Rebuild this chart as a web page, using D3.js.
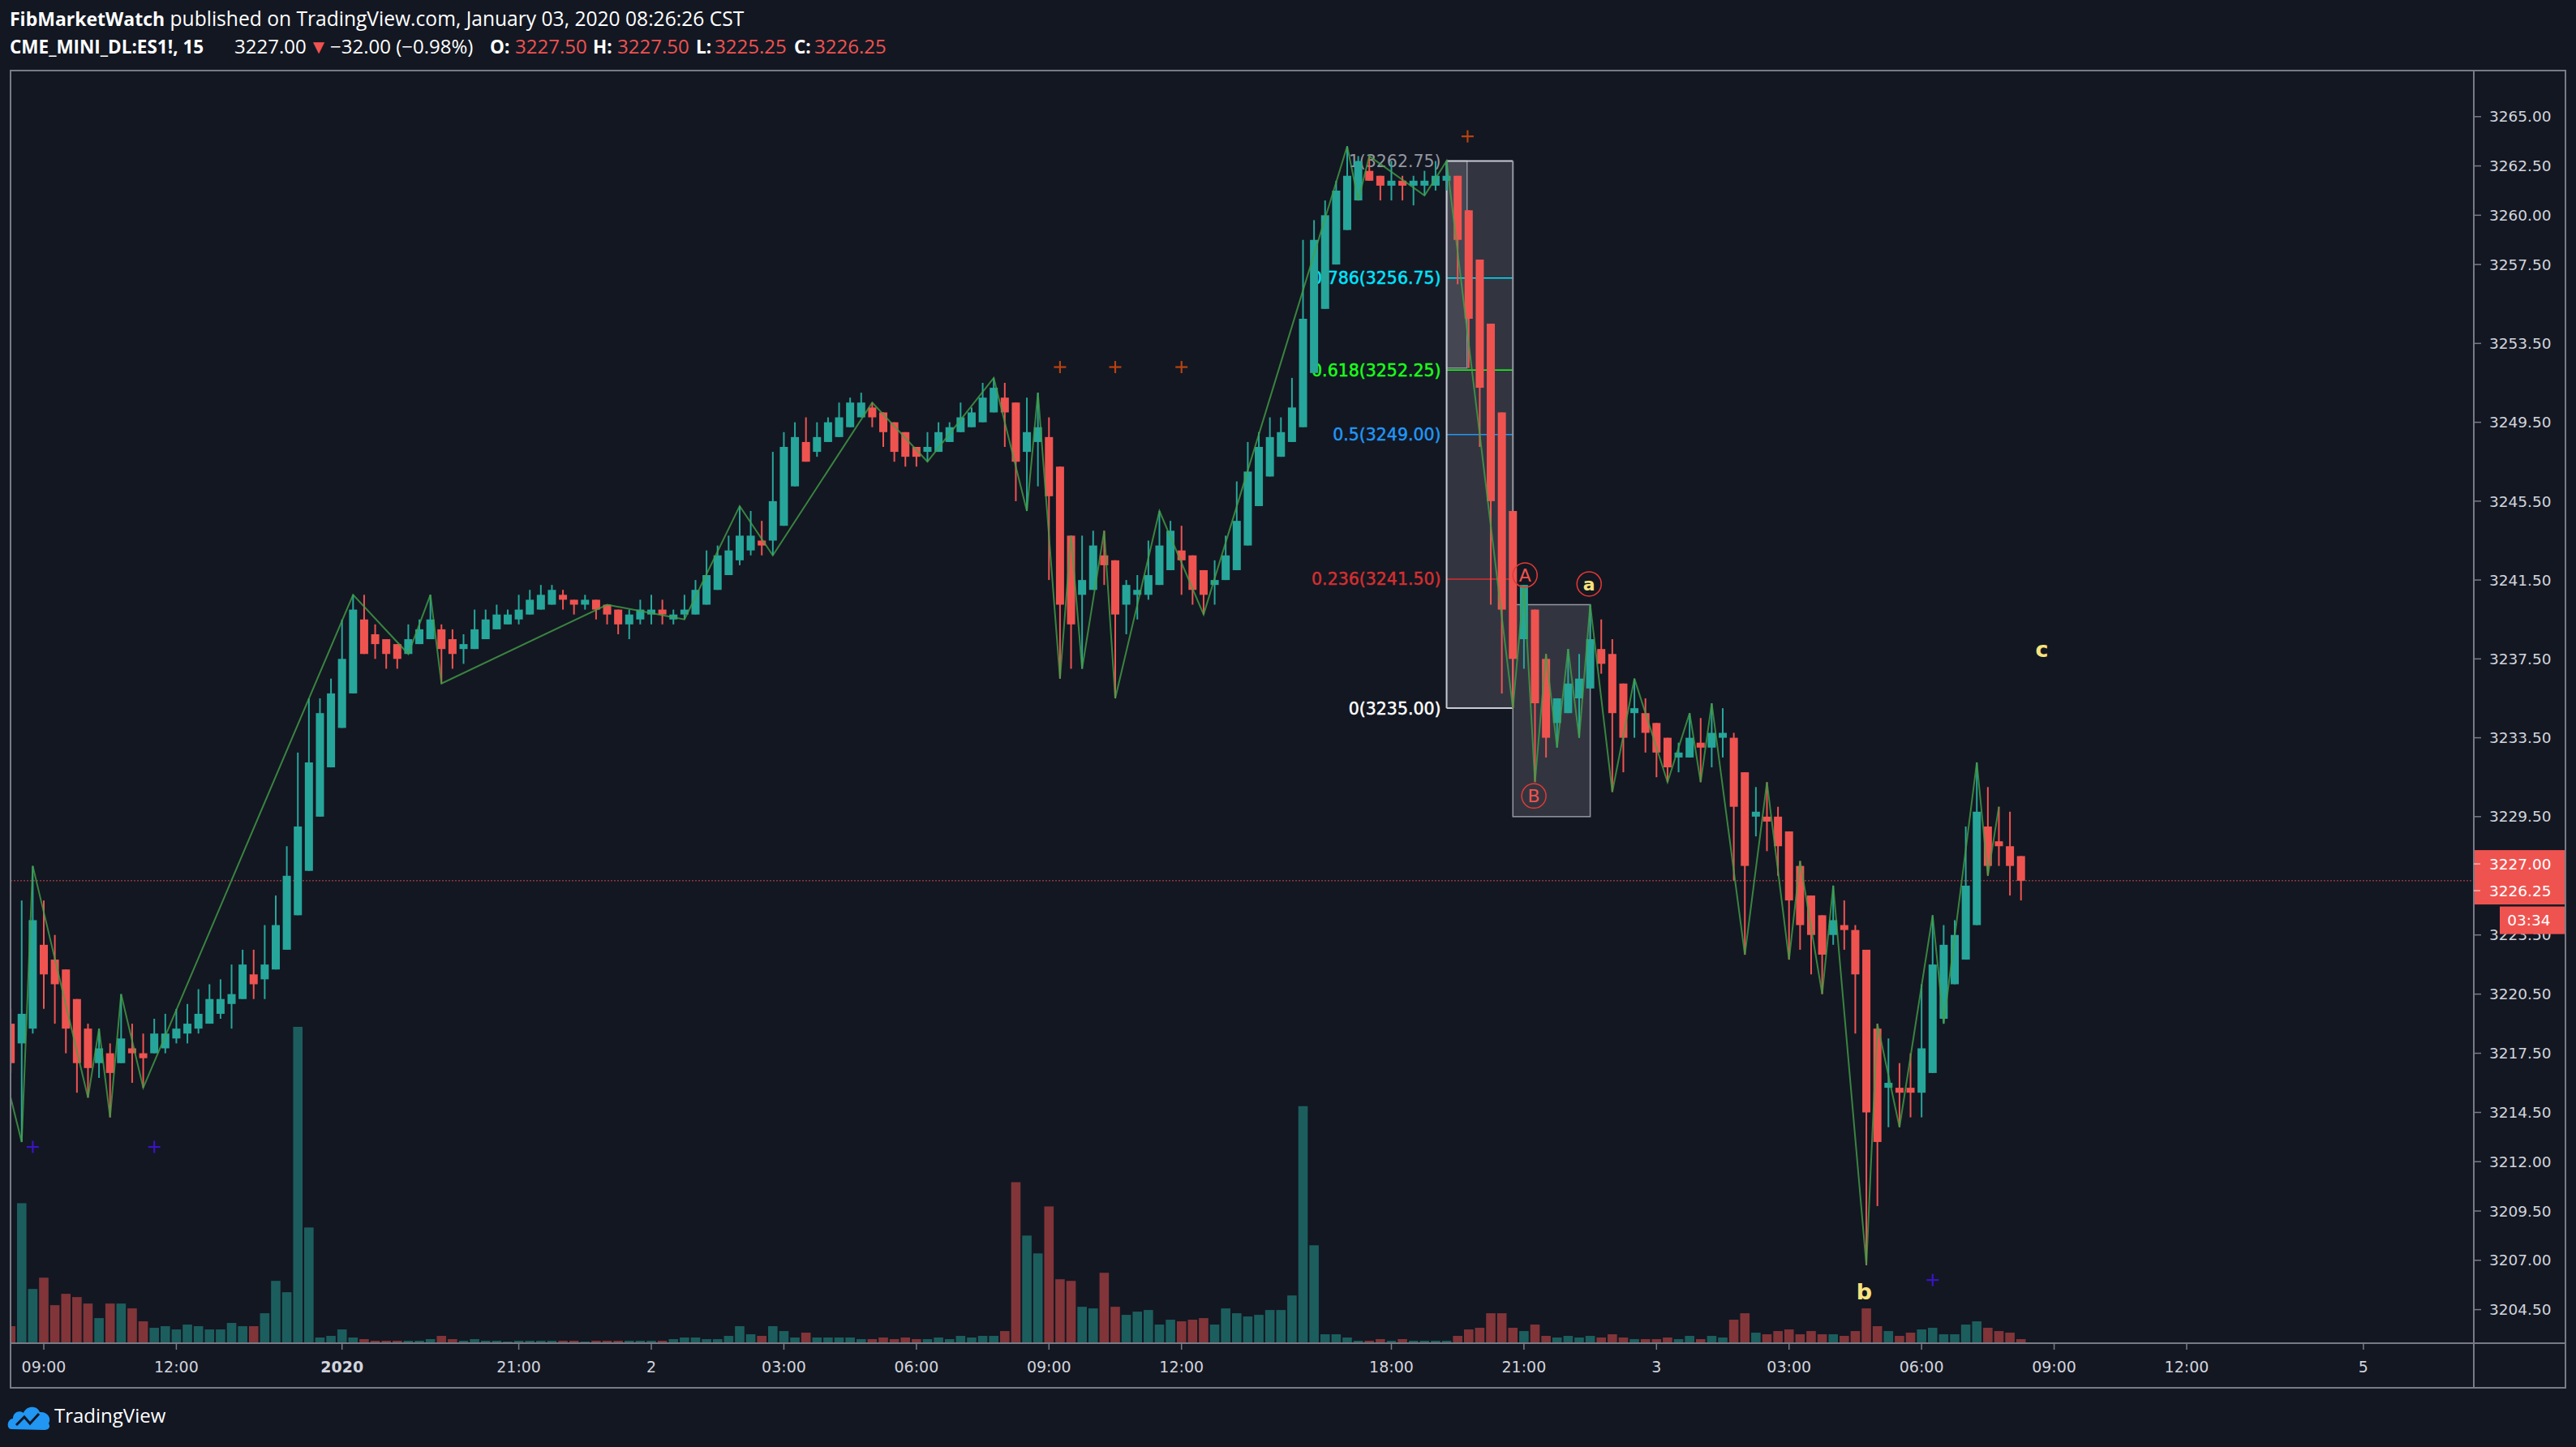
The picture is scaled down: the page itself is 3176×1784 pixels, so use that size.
<!DOCTYPE html>
<html>
<head>
<meta charset="utf-8">
<script src="https://d3js.org/d3.v7.min.js"></script>
<style>
body { margin: 0; background: #131722; }
svg { display: block; }
</style>
</head>
<body>
<div id="chart"></div>
<script>

// ES1! 15 min bars. bar index 0 = Dec 31 09:00, first bar on screen is -3
var firstBar = -3;

var opens = [
  3219.0, 3218.0, 3218.75, 3223.0, 3222.25, 3221.75, 3220.25, 3218.75, 3217.0, 3217.5,
  3217.0, 3217.75, 3217.5, 3217.5, 3217.75, 3218.25, 3218.5, 3218.75, 3219.0, 3219.5,
  3220.0, 3220.25, 3221.5, 3221.25, 3221.75, 3222.75, 3224.5, 3226.75, 3229.5, 3232.0,
  3234.0, 3235.75, 3239.5, 3238.75, 3238.5, 3238.25, 3237.75, 3238.25, 3238.5, 3239.0,
  3238.5, 3238.0, 3238.0, 3238.5, 3239.0, 3239.25, 3239.5, 3239.75, 3240.0, 3240.25,
  3240.75, 3240.5, 3240.25, 3240.5, 3240.25, 3240.0, 3239.25, 3239.5, 3239.75, 3240.0,
  3239.5, 3239.75, 3239.75, 3240.25, 3241.0, 3241.75, 3242.5, 3243.0, 3243.5, 3243.5,
  3244.25, 3246.25, 3248.5, 3248.0, 3248.5, 3248.75, 3249.25, 3249.75, 3250.25, 3250.0,
  3249.5, 3249.0, 3248.25, 3248.0, 3248.0, 3248.5, 3249.0, 3249.25, 3249.5, 3250.0,
  3250.75, 3250.5, 3248.0, 3248.5, 3248.75, 3247.25, 3243.75, 3240.75, 3241.0, 3242.75,
  3242.5, 3240.25, 3240.75, 3240.75, 3241.25, 3242.0, 3243.0, 3242.75, 3242.0, 3241.25,
  3241.5, 3242.0, 3243.25, 3245.25, 3246.75, 3247.75, 3248.5, 3249.25, 3252.0, 3255.25,
  3257.5, 3259.25, 3260.75, 3262.25, 3262.0, 3261.5, 3261.75, 3261.5, 3261.5, 3261.5,
  3261.75, 3262.0, 3260.25, 3257.75, 3254.5, 3250.0, 3245.0, 3238.5, 3240.0, 3237.5,
  3234.25, 3234.75, 3235.5, 3236.0, 3238.0, 3237.75, 3236.25, 3234.75, 3234.75, 3234.25,
  3233.5, 3232.5, 3232.5, 3233.25, 3233.0, 3233.5, 3233.5, 3231.75, 3229.5, 3229.5,
  3229.5, 3228.75, 3227.0, 3225.5, 3224.5, 3223.5, 3224.0, 3223.75, 3222.75, 3218.75,
  3215.75, 3215.75, 3215.75, 3215.5, 3216.5, 3219.25, 3221.0, 3222.25, 3224.0, 3229.0,
  3228.25, 3228.0, 3227.5
];
var highs = [
  3219.75, 3225.25, 3227.0, 3225.25, 3223.5, 3221.75, 3220.25, 3219.0, 3218.75, 3218.0,
  3220.5, 3219.0, 3218.5, 3219.25, 3219.5, 3219.75, 3220.0, 3220.75, 3221.0, 3221.25,
  3222.0, 3222.75, 3222.75, 3224.0, 3225.5, 3228.0, 3232.75, 3235.5, 3235.5, 3236.5,
  3239.5, 3240.75, 3240.75, 3239.25, 3238.5, 3238.25, 3239.25, 3239.5, 3240.75, 3239.25,
  3239.0, 3238.75, 3240.0, 3240.0, 3240.25, 3240.0, 3240.75, 3241.0, 3241.25, 3241.25,
  3241.0, 3240.5, 3240.75, 3240.5, 3240.25, 3240.0, 3240.0, 3240.5, 3240.75, 3240.5,
  3240.0, 3240.75, 3241.5, 3243.0, 3243.25, 3243.75, 3245.25, 3245.0, 3244.5, 3248.0,
  3249.0, 3249.5, 3249.75, 3249.5, 3249.75, 3250.5, 3250.75, 3251.0, 3250.5, 3250.0,
  3249.5, 3249.0, 3248.25, 3249.0, 3249.5, 3249.5, 3250.5, 3250.25, 3251.5, 3251.75,
  3251.5, 3250.5, 3250.75, 3251.0, 3249.75, 3247.25, 3243.75, 3243.75, 3244.0, 3244.0,
  3242.5, 3241.5, 3241.75, 3243.5, 3245.0, 3244.5, 3244.25, 3242.75, 3242.0, 3242.5,
  3243.75, 3246.5, 3248.5, 3249.0, 3249.75, 3249.75, 3251.75, 3258.75, 3259.75, 3260.75,
  3261.75, 3263.5, 3263.0, 3263.0, 3262.0, 3262.75, 3262.0, 3262.0, 3262.25, 3262.75,
  3262.75, 3262.0, 3260.25, 3257.75, 3254.5, 3250.0, 3245.0, 3241.25, 3240.0, 3237.75,
  3235.5, 3238.0, 3237.75, 3240.25, 3239.5, 3238.5, 3236.25, 3236.5, 3235.5, 3234.25,
  3233.5, 3233.25, 3234.75, 3234.5, 3235.25, 3235.0, 3233.75, 3231.75, 3231.0, 3231.25,
  3230.0, 3228.75, 3227.25, 3225.5, 3224.5, 3226.0, 3225.25, 3224.0, 3222.75, 3219.0,
  3218.25, 3217.0, 3217.5, 3221.0, 3224.5, 3224.0, 3224.25, 3229.0, 3232.25, 3231.0,
  3230.0, 3229.75, 3227.5
];
var lows = [
  3216.5, 3213.0, 3218.5, 3219.75, 3219.0, 3217.5, 3215.5, 3215.25, 3216.25, 3214.25,
  3217.0, 3216.0, 3215.75, 3217.5, 3217.5, 3218.0, 3218.0, 3218.5, 3219.0, 3219.25,
  3218.75, 3220.25, 3220.25, 3220.25, 3221.75, 3222.75, 3224.5, 3226.75, 3229.5, 3232.0,
  3234.0, 3235.75, 3237.75, 3237.5, 3237.0, 3237.0, 3237.75, 3238.25, 3238.5, 3236.25,
  3237.0, 3237.25, 3238.0, 3238.5, 3239.0, 3239.25, 3239.25, 3239.75, 3240.0, 3240.25,
  3240.0, 3239.75, 3240.0, 3239.5, 3239.25, 3238.75, 3238.5, 3239.25, 3239.25, 3239.25,
  3239.25, 3239.5, 3239.75, 3240.25, 3241.0, 3241.75, 3242.25, 3242.75, 3242.75, 3242.75,
  3244.25, 3246.25, 3247.5, 3247.75, 3248.5, 3248.75, 3249.25, 3249.75, 3249.25, 3248.25,
  3247.5, 3247.25, 3247.25, 3247.5, 3248.0, 3248.5, 3249.0, 3249.25, 3249.5, 3250.0,
  3248.25, 3245.5, 3245.0, 3246.25, 3241.5, 3236.5, 3237.0, 3237.0, 3241.0, 3241.25,
  3235.5, 3238.75, 3239.5, 3240.5, 3241.25, 3242.0, 3240.75, 3240.25, 3239.75, 3240.25,
  3241.5, 3242.0, 3243.25, 3245.25, 3246.75, 3247.75, 3248.5, 3249.25, 3252.0, 3255.25,
  3257.5, 3259.25, 3260.75, 3261.75, 3260.75, 3260.75, 3260.75, 3260.5, 3261.0, 3261.25,
  3261.25, 3256.5, 3252.25, 3248.25, 3240.25, 3235.75, 3235.0, 3237.0, 3231.25, 3232.5,
  3233.0, 3234.75, 3233.5, 3236.0, 3236.75, 3230.75, 3231.75, 3233.5, 3232.75, 3231.5,
  3231.25, 3231.75, 3232.5, 3231.25, 3232.0, 3232.5, 3226.25, 3222.5, 3228.5, 3227.75,
  3226.5, 3222.25, 3222.75, 3221.5, 3220.5, 3223.0, 3222.75, 3218.5, 3206.75, 3209.75,
  3213.75, 3213.75, 3214.25, 3214.25, 3216.5, 3219.0, 3221.0, 3222.25, 3224.0, 3226.5,
  3227.0, 3225.5, 3225.25
];
var closes = [
  3217.0, 3219.5, 3224.25, 3221.5, 3221.0, 3218.75, 3217.0, 3216.75, 3217.75, 3216.5,
  3218.25, 3217.5, 3217.25, 3218.5, 3218.5, 3218.75, 3219.0, 3219.5, 3220.25, 3220.25,
  3220.5, 3222.0, 3221.0, 3222.0, 3224.0, 3226.5, 3229.0, 3232.25, 3234.75, 3235.75,
  3237.5, 3240.0, 3237.75, 3238.25, 3237.75, 3237.5, 3238.5, 3239.0, 3239.5, 3238.0,
  3237.75, 3238.25, 3239.0, 3239.5, 3239.75, 3239.75, 3240.0, 3240.5, 3240.75, 3241.0,
  3240.5, 3240.25, 3240.5, 3240.0, 3239.75, 3239.25, 3239.75, 3240.0, 3240.0, 3239.75,
  3239.75, 3240.0, 3241.0, 3241.75, 3242.75, 3243.0, 3243.75, 3243.75, 3243.25, 3245.5,
  3248.25, 3248.75, 3247.5, 3248.75, 3249.5, 3249.75, 3250.5, 3250.5, 3249.75, 3249.0,
  3248.0, 3247.75, 3247.75, 3248.25, 3249.0, 3249.25, 3249.75, 3250.0, 3250.75, 3251.25,
  3250.0, 3247.5, 3249.0, 3249.25, 3245.75, 3240.25, 3239.25, 3241.5, 3243.25, 3242.25,
  3239.75, 3241.25, 3241.0, 3241.75, 3243.25, 3244.0, 3242.5, 3241.0, 3240.75, 3241.5,
  3242.75, 3244.5, 3247.0, 3248.25, 3248.75, 3249.0, 3250.25, 3254.75, 3258.75, 3260.0,
  3261.25, 3262.0, 3262.75, 3261.75, 3261.5, 3261.75, 3261.5, 3261.75, 3261.75, 3262.0,
  3262.0, 3258.75, 3254.75, 3251.25, 3245.5, 3240.0, 3237.5, 3241.25, 3235.25, 3233.5,
  3235.5, 3236.25, 3236.5, 3238.5, 3237.25, 3234.75, 3233.5, 3235.0, 3233.75, 3232.75,
  3232.0, 3232.75, 3233.5, 3233.0, 3233.75, 3233.75, 3230.0, 3227.0, 3229.75, 3229.25,
  3228.0, 3225.25, 3224.0, 3223.5, 3222.5, 3224.25, 3223.75, 3221.5, 3214.5, 3213.0,
  3216.0, 3215.5, 3215.5, 3217.75, 3222.0, 3223.0, 3223.5, 3226.0, 3229.75, 3227.0,
  3228.0, 3227.0, 3226.25
];
var volumes = [
  3000, 25800, 9900, 12000, 6900, 9000, 8400, 7200, 4500, 7200,
  7200, 6300, 3900, 2700, 3000, 2400, 3300, 3000, 2400, 2400,
  3600, 3000, 3000, 5400, 11400, 9300, 58500, 21300, 900, 1200,
  2400, 900, 600, 300, 300, 300, 300, 300, 600, 1200,
  600, 300, 600, 300, 300, 150, 300, 300, 300, 300,
  300, 300, 150, 300, 300, 300, 300, 300, 300, 300,
  600, 900, 900, 600, 600, 1200, 3000, 1500, 1200, 3000,
  2100, 900, 1800, 900, 900, 900, 900, 600, 600, 900,
  600, 900, 600, 600, 900, 600, 1200, 900, 1200, 1200,
  2100, 29700, 19800, 16500, 25200, 11700, 11400, 6600, 6300, 12900,
  6600, 5100, 5700, 6000, 3300, 4200, 3900, 4200, 4500, 3300,
  6300, 5400, 4800, 5100, 6000, 6000, 8700, 43800, 18000, 1500,
  1500, 900, 300, 300, 600, 300, 600, 300, 300, 300,
  300, 1200, 2400, 2700, 5400, 5400, 2700, 2100, 3300, 1200,
  900, 1200, 900, 1200, 900, 1500, 900, 600, 600, 600,
  900, 600, 1200, 600, 1200, 900, 4200, 5400, 1800, 1500,
  2100, 2400, 1500, 2100, 1500, 1500, 1200, 2100, 6300, 3000,
  2100, 1200, 1800, 2400, 2700, 1500, 1500, 3300, 3900, 2700,
  2100, 1800, 600
];

// axis labels
var priceTicks = [3265, 3262.5, 3260, 3257.5, 3253.5, 3249.5, 3245.5, 3241.5, 3237.5, 3233.5,
  3229.5, 3223.5, 3220.5, 3217.5, 3214.5, 3212, 3209.5, 3207, 3204.5];
var timeTickBars = [0, 12, 27, 43, 55, 67, 79, 91, 103, 122, 134, 146, 158, 170, 182, 194, 210];
var timeTickLabels = ["09:00", "12:00", "2020", "21:00", "2", "03:00", "06:00", "09:00", "12:00",
  "18:00", "21:00", "3", "03:00", "06:00", "09:00", "12:00", "5"];

// zigzag pivots [bar, price]
var zigzag = [[-3, 3215.25], [-2, 3213.0], [-1, 3227.0], [4, 3215.25], [5, 3218.75], [6, 3214.25],
  [7, 3220.5], [9, 3215.75], [28, 3240.75], [33, 3237.75], [35, 3240.75], [36, 3236.25],
  [51, 3240.25], [58, 3239.5], [63, 3245.25], [66, 3242.75], [75, 3250.5], [80, 3247.5],
  [86, 3251.75], [89, 3245.0], [90, 3251.0], [92, 3236.5], [93, 3243.75], [94, 3237.0],
  [96, 3244.0], [97, 3235.5], [101, 3245.0], [105, 3239.75], [118, 3263.5], [119, 3260.75],
  [120, 3263.0], [125, 3261.0], [127, 3262.75], [133, 3235.0], [134, 3241.25], [135, 3231.25],
  [136, 3237.75], [137, 3233.0], [138, 3238.0], [139, 3233.5], [140, 3240.25], [142, 3230.75],
  [144, 3236.5], [147, 3231.25], [149, 3234.75], [150, 3231.25], [151, 3235.25], [154, 3222.5],
  [156, 3231.25], [158, 3222.25], [159, 3227.25], [161, 3220.5], [162, 3226.0], [165, 3206.75],
  [166, 3219.0], [168, 3213.75], [171, 3224.5], [172, 3219.0], [175, 3232.25], [176, 3226.5],
  [177, 3230.0]];

// fib retracement drawn from bar 127 high to bar 133 low
var fibStart = 127, fibEnd = 133, fibHigh = 3262.75, fibLow = 3235.0;
var fibLevels = [1, 0.786, 0.618, 0.5, 0.236, 0];
var fibColors = ["#9598a1", "#00e5ff", "#1aff1a", "#2196f3", "#d32f2f", "#ffffff"];

var boxB = {i0: 133, i1: 140, top: 3240.25, bottom: 3229.5};
var shadeBox = {i0: 127, i1: 128.85, top: 3262.75, bottom: 3252.25};

var circled = [{t: "A", i: 134.1, p: 3241.75, c: "#ef5350"}, {t: "B", i: 134.9, p: 3230.55, c: "#ef5350"},
  {t: "a", i: 139.9, p: 3241.3, c: "#f7e37e"}];
var waveLabels = [{t: "b", i: 164.8, p: 3205.4}, {t: "c", i: 180.9, p: 3238.0}];
var orangeCrosses = [[92, 3252.3], [97, 3252.3], [103, 3252.3], [128.9, 3264.0]];
var purpleCrosses = [[-1, 3212.75], [10, 3212.75], [171, 3206.0]];

var lastPrice = 3226.25, prevLabel = 3227.00;

var width = 3176, height = 1784;
var paneLeft = 13, paneRight = 3050, outerRight = 3163, paneTop = 87, paneBottom = 1656, axisBottom = 1711;

var svg = d3.select("#chart").append("svg")
  .attr("width", width)
  .attr("height", height)
  .style("background", "#131722");

var x = d3.scaleLinear().domain([0, 194]).range([54, 2696]);
var y = d3.scaleLinear().domain([3204.5, 3265]).range([1614.6, 143.8]);
var yVol = d3.scaleLinear().domain([0, d3.max(volumes)]).range([paneBottom - 1, 1266]);

var bars = opens.map(function(o, k) {
  return {i: firstBar + k, o: o, h: highs[k], l: lows[k], c: closes[k], v: volumes[k]};
});

svg.append("clipPath").attr("id", "pane")
  .append("rect")
  .attr("x", paneLeft).attr("y", paneTop)
  .attr("width", paneRight - paneLeft).attr("height", paneBottom - paneTop);

var pane = svg.append("g").attr("clip-path", "url(#pane)");

// volume
pane.append("g").selectAll("rect")
  .data(bars).join("rect")
  .attr("x", d => x(d.i) - 5.8)
  .attr("width", 11.6)
  .attr("y", d => yVol(d.v))
  .attr("height", d => yVol(0) - yVol(d.v))
  .attr("fill", d => d.c >= d.o ? "rgba(38,166,154,0.5)" : "rgba(239,83,80,0.5)");

// last price dotted line
pane.append("line")
  .attr("x1", paneLeft).attr("x2", paneRight)
  .attr("y1", y(lastPrice)).attr("y2", y(lastPrice))
  .attr("stroke", "rgba(239,83,80,0.55)")
  .attr("stroke-width", 1.5)
  .attr("stroke-dasharray", "2,2");

// fib retracement
var fib = pane.append("g");
var fx0 = x(fibStart), fx1 = x(fibEnd);
fib.append("rect")
  .attr("x", fx0).attr("y", y(fibHigh))
  .attr("width", fx1 - fx0).attr("height", y(fibLow) - y(fibHigh))
  .attr("fill", "rgba(149,152,161,0.24)");
fib.append("rect")
  .attr("x", x(shadeBox.i0)).attr("y", y(shadeBox.top))
  .attr("width", x(shadeBox.i1) - x(shadeBox.i0)).attr("height", y(shadeBox.bottom) - y(shadeBox.top))
  .attr("fill", "rgba(149,152,161,0.18)")
  .attr("stroke", "rgba(200,203,211,0.6)")
  .attr("stroke-width", 1.5);

fibLevels.forEach(function(lv, k) {
  var p = fibLow + lv * (fibHigh - fibLow);
  var edge = (lv === 1 || lv === 0);
  fib.append("line")
    .attr("x1", fx0).attr("x2", fx1)
    .attr("y1", y(p)).attr("y2", y(p))
    .attr("stroke", edge ? "#c8cbd3" : fibColors[k])
    .attr("stroke-width", edge ? 2 : 1.5);
  fib.append("text")
    .attr("x", fx0 - 7)
    .attr("y", y(p))
    .attr("dy", "0.36em")
    .attr("text-anchor", "end")
    .attr("font-family", "DejaVu Sans")
    .attr("font-size", 20.5)
    .attr("fill", fibColors[k])
    .attr("stroke", lv === 1 ? "none" : fibColors[k])
    .attr("stroke-width", 0.5)
    .text(lv + "(" + (Math.round(p * 4) / 4).toFixed(2) + ")");
});
fib.append("line")
  .attr("x1", fx0).attr("x2", fx0)
  .attr("y1", y(fibHigh)).attr("y2", y(fibLow))
  .attr("stroke", "#c8cbd3").attr("stroke-width", 2);
fib.append("line")
  .attr("x1", fx1).attr("x2", fx1)
  .attr("y1", y(fibHigh)).attr("y2", y(fibLow))
  .attr("stroke", "#9598a1").attr("stroke-width", 2);

// second box
pane.append("rect")
  .attr("x", x(boxB.i0)).attr("y", y(boxB.top))
  .attr("width", x(boxB.i1) - x(boxB.i0)).attr("height", y(boxB.bottom) - y(boxB.top))
  .attr("fill", "rgba(149,152,161,0.24)")
  .attr("stroke", "#9598a1")
  .attr("stroke-width", 1.5);

// candles
var candles = pane.append("g").selectAll("g")
  .data(bars).join("g");
candles.append("line")
  .attr("x1", d => x(d.i)).attr("x2", d => x(d.i))
  .attr("y1", d => y(d.h)).attr("y2", d => y(d.l))
  .attr("stroke", d => d.c >= d.o ? "#26a69a" : "#ef5350")
  .attr("stroke-width", 2);
candles.append("rect")
  .attr("x", d => x(d.i) - 5)
  .attr("width", 10)
  .attr("y", d => y(Math.max(d.o, d.c)))
  .attr("height", d => Math.max(2, Math.abs(y(d.o) - y(d.c))))
  .attr("fill", d => d.c >= d.o ? "#26a69a" : "#ef5350");

// zigzag
pane.append("path")
  .datum(zigzag)
  .attr("d", d3.line().x(d => x(d[0])).y(d => y(d[1])))
  .attr("fill", "none")
  .attr("stroke", "rgba(67,160,71,0.8)")
  .attr("stroke-width", 2);

// crosses
function cross(list, color) {
  var g = pane.append("g").attr("stroke", color).attr("stroke-width", 2.2);
  list.forEach(function(d) {
    g.append("line").attr("x1", x(d[0]) - 7.5).attr("x2", x(d[0]) + 7.5).attr("y1", y(d[1])).attr("y2", y(d[1]));
    g.append("line").attr("x1", x(d[0])).attr("x2", x(d[0])).attr("y1", y(d[1]) - 7.5).attr("y2", y(d[1]) + 7.5);
  });
}
cross(orangeCrosses, "#b8420f");
cross(purpleCrosses, "#3b14c4");

// wave labels
circled.forEach(function(d) {
  pane.append("circle")
    .attr("cx", x(d.i)).attr("cy", y(d.p)).attr("r", 15)
    .attr("fill", "none").attr("stroke", "#e53935").attr("stroke-width", 1.5);
  pane.append("text")
    .attr("x", x(d.i)).attr("y", y(d.p)).attr("dy", "0.36em")
    .attr("text-anchor", "middle")
    .attr("font-family", "DejaVu Sans")
    .attr("font-size", 22)
    .attr("font-weight", d.t === "a" ? "bold" : "normal")
    .attr("fill", d.c)
    .text(d.t);
});
waveLabels.forEach(function(d) {
  pane.append("text")
    .attr("x", x(d.i)).attr("y", y(d.p)).attr("dy", "0.36em")
    .attr("text-anchor", "middle")
    .attr("font-family", "DejaVu Sans")
    .attr("font-size", 27)
    .attr("font-weight", "bold")
    .attr("fill", "#f7e37e")
    .text(d.t);
});

// frame
var frameColor = "#787b86";
svg.append("rect")
  .attr("x", paneLeft).attr("y", paneTop)
  .attr("width", outerRight - paneLeft).attr("height", axisBottom - paneTop)
  .attr("fill", "none").attr("stroke", frameColor).attr("stroke-width", 2);
svg.append("line")
  .attr("x1", paneRight).attr("x2", paneRight).attr("y1", paneTop).attr("y2", axisBottom)
  .attr("stroke", frameColor).attr("stroke-width", 2);
svg.append("line")
  .attr("x1", paneLeft).attr("x2", outerRight).attr("y1", paneBottom).attr("y2", paneBottom)
  .attr("stroke", frameColor).attr("stroke-width", 2);

// price axis
var yAxis = svg.append("g").attr("font-family", "DejaVu Sans").attr("font-size", 18.5);
priceTicks.forEach(function(p) {
  yAxis.append("line")
    .attr("x1", paneRight).attr("x2", paneRight + 9)
    .attr("y1", y(p)).attr("y2", y(p))
    .attr("stroke", frameColor).attr("stroke-width", 1.5);
  yAxis.append("text")
    .attr("x", paneRight + 19).attr("y", y(p)).attr("dy", "0.36em")
    .attr("fill", "#d1d4dc")
    .text(p.toFixed(2));
});

// last price labels
var lbl = [{p: prevLabel, top: y(prevLabel) - 19.5}, {p: lastPrice, top: y(prevLabel) + 13.5}];
lbl.forEach(function(d) {
  yAxis.append("rect")
    .attr("x", paneRight + 1).attr("y", d.top)
    .attr("width", outerRight - paneRight - 2).attr("height", 34)
    .attr("fill", "#ef5350");
  yAxis.append("line")
    .attr("x1", paneRight).attr("x2", paneRight + 8)
    .attr("y1", d.top + 17).attr("y2", d.top + 17)
    .attr("stroke", "#f8b5b4").attr("stroke-width", 1.5);
  yAxis.append("text")
    .attr("x", paneRight + 19).attr("y", d.top + 17).attr("dy", "0.36em")
    .attr("fill", "#ffffff")
    .text(d.p.toFixed(2));
});
yAxis.append("rect")
  .attr("x", 3082).attr("y", y(prevLabel) + 50)
  .attr("width", outerRight - 3083).attr("height", 34)
  .attr("fill", "#ef5350");
yAxis.append("text")
  .attr("x", 3118).attr("y", y(prevLabel) + 67).attr("dy", "0.36em")
  .attr("text-anchor", "middle")
  .attr("fill", "#ffffff")
  .text("03:34");

// time axis
var xAxis = svg.append("g").attr("font-family", "DejaVu Sans").attr("font-size", 19);
timeTickBars.forEach(function(b, k) {
  xAxis.append("line")
    .attr("x1", x(b)).attr("x2", x(b))
    .attr("y1", paneBottom).attr("y2", paneBottom + 8)
    .attr("stroke", frameColor).attr("stroke-width", 1.5);
  xAxis.append("text")
    .attr("x", x(b)).attr("y", 1685).attr("dy", "0.36em")
    .attr("text-anchor", "middle")
    .attr("fill", "#d1d4dc")
    .attr("font-weight", timeTickLabels[k] === "2020" ? "bold" : "normal")
    .text(timeTickLabels[k]);
});

// header
var head1 = svg.append("text")
  .attr("x", 12).attr("y", 32)
  .attr("font-family", "Open Sans")
  .attr("fill", "#ffffff");
head1.append("tspan").attr("font-weight", "bold").attr("font-size", 23).text("FibMarketWatch");
head1.append("tspan").attr("font-size", 24.6).text(" published on TradingView.com, January 03, 2020 08:26:26 CST");

// second header line, each piece placed where the snapshot has it
var headParts = [
  ["CME_MINI_DL:ES1!, 15", "#ffffff", true, 12],
  ["3227.00", "#ffffff", false, 289],
  ["\u25BC", "#ef5350", false, 381],
  ["\u221232.00 (\u22120.98%)", "#ffffff", false, 407],
  ["O:", "#ffffff", true, 604], ["3227.50", "#ef5350", false, 635],
  ["H:", "#ffffff", true, 731], ["3227.50", "#ef5350", false, 761],
  ["L:", "#ffffff", true, 858], ["3225.25", "#ef5350", false, 881],
  ["C:", "#ffffff", true, 979], ["3226.25", "#ef5350", false, 1004]
];
var head2 = svg.append("g").attr("font-family", "Open Sans");
headParts.forEach(function(p) {
  head2.append("text")
    .attr("x", p[3]).attr("y", 66)
    .attr("fill", p[1])
    .attr("font-weight", p[2] ? "bold" : "normal")
    .attr("font-size", p[2] ? 22.5 : 24)
    .text(p[0]);
});

// TradingView logo
var logo = svg.append("g");
logo.append("path")
  .attr("d", "M14,1762 C8,1762 8,1750 16,1749 C16,1741 24,1738 29,1742 C32,1733 46,1732 49,1741 C58,1740 64,1748 60,1755 C63,1760 59,1763 55,1763 Z")
  .attr("fill", "#2196f3");
logo.append("path")
  .attr("d", "M20,1757 L30,1747 L37,1755 L48,1743")
  .attr("fill", "none").attr("stroke", "#131722").attr("stroke-width", 3);
svg.append("text")
  .attr("x", 67).attr("y", 1754)
  .attr("font-family", "Open Sans").attr("font-size", 24)
  .attr("fill", "#ffffff")
  .text("TradingView");

</script>
</body>
</html>
